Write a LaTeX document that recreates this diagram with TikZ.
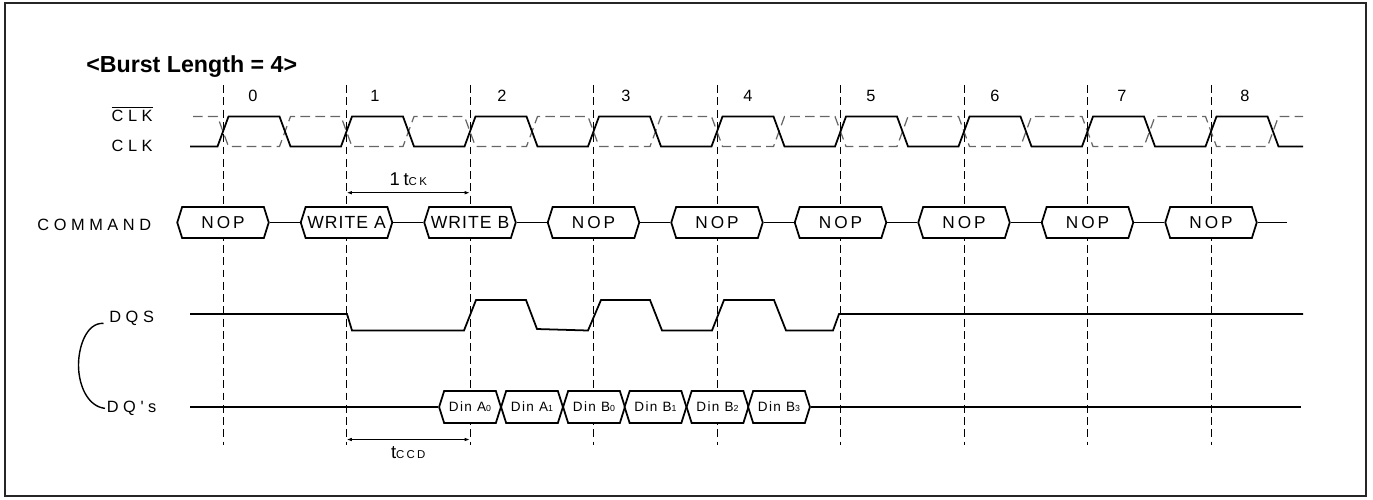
\documentclass[tikz,border=0pt]{standalone}
\usepackage{fontspec}
\setmainfont{Liberation Sans}
\newfontfamily\lblfont[LetterSpace=28]{Liberation Sans}
\newfontfamily\nopfont[LetterSpace=17]{Liberation Sans}
\newfontfamily\wrfont[LetterSpace=6]{Liberation Sans}
\newfontfamily\dinfont[LetterSpace=10]{Liberation Sans}
\newfontfamily\dimfont[LetterSpace=20]{Liberation Sans}
\usetikzlibrary{shapes.symbols,arrows.meta}

\newcommand{\dsub}[1]{{\fontsize{5}{6}\selectfont #1}}

\tikzset{
  tickline/.style={line width=0.45pt, dash pattern=on 4.5pt off 2.5pt},
  wave/.style={line width=1pt},
  clkbar/.style={line width=0.7pt, black!60, dash pattern=on 5.5pt off 3pt},
  siglabel/.style={inner sep=0pt, font=\lblfont\fontsize{9.3}{11}\selectfont},
  cyclabel/.style={inner sep=0pt, anchor=base, font=\fontsize{9.3}{11}\selectfont},
  cmdbox/.style={signal, signal to=west and east, signal pointer angle=145,
    draw, fill=white, line width=1pt, inner sep=0pt,
    minimum width=1.83cm, minimum height=0.62cm},
  nopbox/.style={cmdbox, font=\nopfont\fontsize{9.8}{11}\selectfont},
  wrbox/.style={cmdbox, font=\wrfont\fontsize{10}{12}\selectfont},
  dinbox/.style={cmdbox, minimum width=1.236cm, minimum height=0.64cm,
    font=\dinfont\fontsize{7.7}{9}\selectfont},
  dimarrow/.style={{Latex[length=3pt,width=2pt]}-{Latex[length=3pt,width=2pt]},
    line width=0.6pt},
  dimlabel/.style={inner sep=0pt, font=\dimfont},
}

\begin{document}
\begin{tikzpicture}
  \useasboundingbox (0,0) rectangle (27.46,-9.98);
  \draw[line width=0.8pt, black!85] (0.10,-0.06) rectangle (27.32,-9.92);

  % title and signal names
  \node[anchor=base west, inner sep=0pt, font=\bfseries\fontsize{13.2}{15}\selectfont]
    (title) at (1.72,-1.454) {<Burst Length = 4>};
  \node[siglabel, anchor=base east] (clkb) at (3.06,-2.43) {$\overline{\mbox{CLK}}$};
  \node[siglabel, anchor=base east] (clk) at (3.06,-3.03) {CLK};
  \node[siglabel, anchor=base east] (cmd) at (3.03,-4.60) {COMMAND};
  \node[siglabel, anchor=base west] (dqs) at (2.18,-6.45) {DQS};
  \node[siglabel, anchor=base west] (dq) at (2.13,-8.25) {DQ's};

  % clock cycle numbers
  \node[cyclabel] (n0) at (5.06,-2.03) {0};
  \node[cyclabel] (n1) at (7.50,-2.03) {1};
  \node[cyclabel] (n2) at (10.04,-2.03) {2};
  \node[cyclabel] (n3) at (12.52,-2.03) {3};
  \node[cyclabel] (n4) at (14.96,-2.03) {4};
  \node[cyclabel] (n5) at (17.42,-2.03) {5};
  \node[cyclabel] (n6) at (19.90,-2.03) {6};
  \node[cyclabel] (n7) at (22.44,-2.03) {7};
  \node[cyclabel] (n8) at (24.90,-2.03) {8};

  % clock edges
  \draw[tickline] (4.46,-1.70) -- (4.46,-8.90);
  \draw[tickline] (6.93,-1.70) -- (6.93,-8.90);
  \draw[tickline] (9.40,-1.70) -- (9.40,-8.90);
  \draw[tickline] (11.87,-1.70) -- (11.87,-8.90);
  \draw[tickline] (14.34,-1.70) -- (14.34,-8.90);
  \draw[tickline] (16.81,-1.70) -- (16.81,-8.90);
  \draw[tickline] (19.28,-1.70) -- (19.28,-8.90);
  \draw[tickline] (21.75,-1.70) -- (21.75,-8.90);
  \draw[tickline] (24.22,-1.70) -- (24.22,-8.90);

  % CLK bar and CLK
  \draw[clkbar] (3.86,-2.33) -- (4.35,-2.33) -- (4.57,-2.93) -- (5.59,-2.93) -- (5.81,-2.33)
    -- (6.82,-2.33) -- (7.04,-2.93) -- (8.06,-2.93) -- (8.28,-2.33) -- (9.29,-2.33)
    -- (9.51,-2.93) -- (10.53,-2.93) -- (10.75,-2.33) -- (11.76,-2.33) -- (11.98,-2.93)
    -- (13.00,-2.93) -- (13.22,-2.33) -- (14.23,-2.33) -- (14.45,-2.93) -- (15.47,-2.93)
    -- (15.69,-2.33) -- (16.70,-2.33) -- (16.92,-2.93) -- (17.94,-2.93) -- (18.16,-2.33)
    -- (19.17,-2.33) -- (19.39,-2.93) -- (20.41,-2.93) -- (20.63,-2.33) -- (21.64,-2.33)
    -- (21.86,-2.93) -- (22.88,-2.93) -- (23.10,-2.33) -- (24.11,-2.33) -- (24.33,-2.93)
    -- (25.35,-2.93) -- (25.57,-2.33) -- (26.06,-2.33);
  \draw[wave] (3.80,-2.93) -- (4.35,-2.93) -- (4.57,-2.33) -- (5.59,-2.33) -- (5.81,-2.93)
    -- (6.82,-2.93) -- (7.04,-2.33) -- (8.06,-2.33) -- (8.28,-2.93) -- (9.29,-2.93)
    -- (9.51,-2.33) -- (10.53,-2.33) -- (10.75,-2.93) -- (11.76,-2.93) -- (11.98,-2.33)
    -- (13.00,-2.33) -- (13.22,-2.93) -- (14.23,-2.93) -- (14.45,-2.33) -- (15.47,-2.33)
    -- (15.69,-2.93) -- (16.70,-2.93) -- (16.92,-2.33) -- (17.94,-2.33) -- (18.16,-2.93)
    -- (19.17,-2.93) -- (19.39,-2.33) -- (20.41,-2.33) -- (20.63,-2.93) -- (21.64,-2.93)
    -- (21.86,-2.33) -- (22.88,-2.33) -- (23.10,-2.93) -- (24.11,-2.93) -- (24.33,-2.33)
    -- (25.35,-2.33) -- (25.57,-2.93) -- (26.06,-2.93);

  % 1 tCK
  \coordinate (tck0) at (6.93,-3.854);
  \coordinate (tck1) at (9.40,-3.854);
  \draw[dimarrow] (tck0) -- (tck1)
    node[dimlabel, midway, above=3.8pt] (tcklbl) {{\fontsize{10.5}{12}\selectfont 1t}{\fontsize{6.5}{8}\selectfont CK}};

  % command bus
  \node[nopbox] (nop0) at (4.46,-4.45) {NOP};
  \node[wrbox] (wra) at (6.93,-4.45) {WRITE A};
  \node[wrbox] (wrb) at (9.40,-4.45) {WRITE B};
  \node[nopbox] (nop3) at (11.87,-4.45) {NOP};
  \node[nopbox] (nop4) at (14.34,-4.45) {NOP};
  \node[nopbox] (nop5) at (16.81,-4.45) {NOP};
  \node[nopbox] (nop6) at (19.28,-4.45) {NOP};
  \node[nopbox] (nop7) at (21.75,-4.45) {NOP};
  \node[nopbox] (nop8) at (24.22,-4.45) {NOP};
  \coordinate (cmdend) at (25.74,-4.45);
  \draw[wave] (nop0.east) -- (wra.west);
  \draw[wave] (wra.east) -- (wrb.west);
  \draw[wave] (wrb.east) -- (nop3.west);
  \draw[wave] (nop3.east) -- (nop4.west);
  \draw[wave] (nop4.east) -- (nop5.west);
  \draw[wave] (nop5.east) -- (nop6.west);
  \draw[wave] (nop6.east) -- (nop7.west);
  \draw[wave] (nop7.east) -- (nop8.west);
  \draw[wave] (nop8.east) -- (cmdend);

  % DQS
  \draw[wave] (3.80,-6.28) -- (6.94,-6.28) -- (7.04,-6.61) -- (9.28,-6.61) -- (9.52,-6.00)
    -- (10.52,-6.00) -- (10.74,-6.58) -- (11.76,-6.61) -- (12.02,-6.00) -- (13.00,-6.00)
    -- (13.24,-6.61) -- (14.24,-6.61) -- (14.48,-6.00) -- (15.48,-6.00) -- (15.72,-6.61)
    -- (16.66,-6.61) -- (16.78,-6.28) -- (26.06,-6.28);

  % bracket DQS / DQ's
  \draw[line width=0.8pt] ([shift={(-0.11,-0.10)}]dqs.west)
    .. controls (1.72,-6.45) and (1.57,-6.95) .. (1.57,-7.30)
    .. controls (1.57,-7.70) and (1.75,-8.13) .. ([xshift=-0.03cm]dq.west);

  % DQ's
  \node[dinbox] (dina0) at (9.40,-8.14) {Din A\dsub{0}};
  \node[dinbox] (dina1) at (10.64,-8.14) {Din A\dsub{1}};
  \node[dinbox] (dinb0) at (11.88,-8.14) {Din B\dsub{0}};
  \node[dinbox] (dinb1) at (13.11,-8.14) {Din B\dsub{1}};
  \node[dinbox] (dinb2) at (14.35,-8.14) {Din B\dsub{2}};
  \node[dinbox] (dinb3) at (15.58,-8.14) {Din B\dsub{3}};
  \coordinate (dqstart) at (3.80,-8.14);
  \coordinate (dqend) at (26.02,-8.14);
  \draw[wave] (dqstart) -- (dina0.west);
  \draw[wave] (dinb3.east) -- (dqend);

  % tCCD
  \coordinate (ccd0) at (6.93,-8.79);
  \coordinate (ccd1) at (9.40,-8.79);
  \draw[dimarrow] (ccd0) -- (ccd1)
    node[dimlabel, midway, below=3.5pt] (ccdlbl) {{\fontsize{10.5}{12}\selectfont t}{\fontsize{6.5}{8}\selectfont CCD}};
\end{tikzpicture}
\end{document}
